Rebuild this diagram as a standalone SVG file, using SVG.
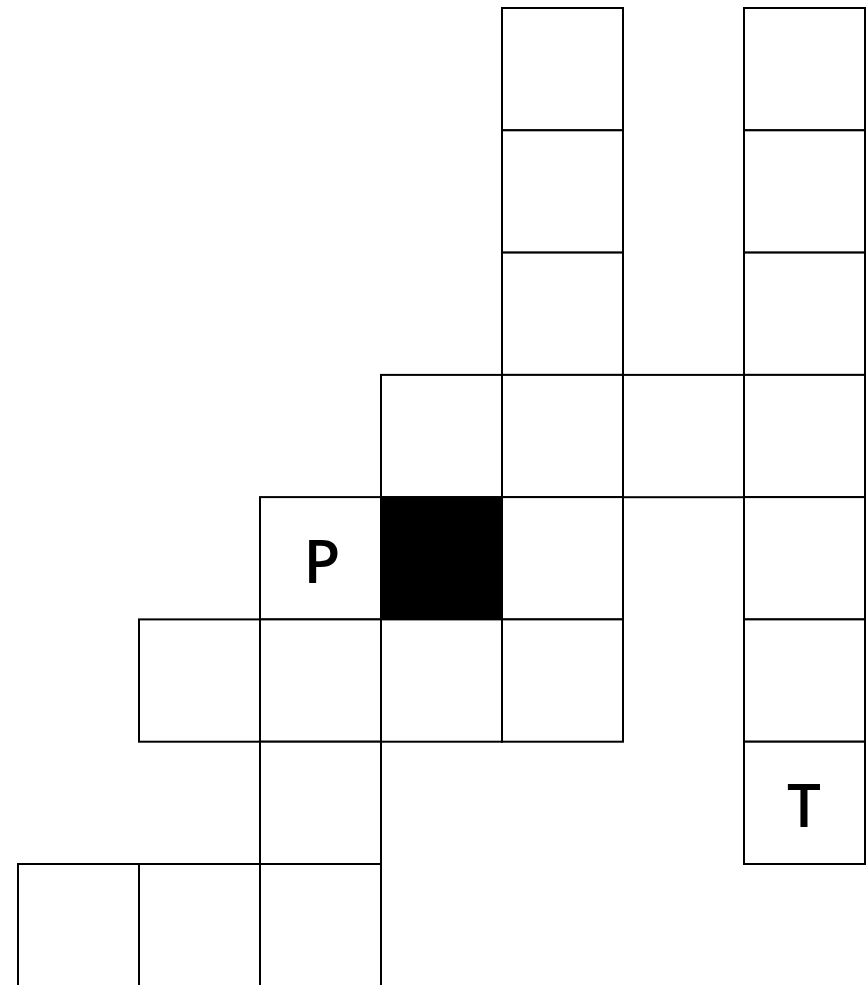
<svg xmlns="http://www.w3.org/2000/svg" width="868" height="985" viewBox="0 0 868 985">
<style>
.c{fill:#fff;stroke:#000;stroke-width:2}
.b{fill:#000;stroke:#000;stroke-width:2}
.t{font-family:"Open Sans","DejaVu Sans",sans-serif;font-size:60px;font-weight:600;fill:#000;text-anchor:middle}
</style>
<rect width="868" height="985" fill="#fff"/>
<g id="r0c4"><rect class="c" x="502" y="8" width="121" height="122.3"/></g>
<g id="r0c6"><rect class="c" x="744" y="8" width="121" height="122.3"/></g>
<g id="r1c4"><rect class="c" x="502" y="130.3" width="121" height="122.3"/></g>
<g id="r1c6"><rect class="c" x="744" y="130.3" width="121" height="122.3"/></g>
<g id="r2c4"><rect class="c" x="502" y="252.6" width="121" height="122.3"/></g>
<g id="r2c6"><rect class="c" x="744" y="252.6" width="121" height="122.3"/></g>
<g id="r3c3"><rect class="c" x="381" y="374.9" width="121" height="122.3"/></g>
<g id="r3c4"><rect class="c" x="502" y="374.9" width="121" height="122.3"/></g>
<g id="r3c5"><rect class="c" x="623" y="374.9" width="121" height="122.3"/></g>
<g id="r3c6"><rect class="c" x="744" y="374.9" width="121" height="122.3"/></g>
<g id="r4c2"><rect class="c" x="260" y="497.1" width="121" height="122.3"/><text class="t" x="322" y="583">P</text></g>
<g id="r4c3"><rect class="b" x="381" y="497.1" width="121" height="122.3"/></g>
<g id="r4c4"><rect class="c" x="502" y="497.1" width="121" height="122.3"/></g>
<g id="r4c6"><rect class="c" x="744" y="497.1" width="121" height="122.3"/></g>
<g id="r5c1"><rect class="c" x="139" y="619.4" width="121" height="122.3"/></g>
<g id="r5c2"><rect class="c" x="260" y="619.4" width="121" height="122.3"/></g>
<g id="r5c3"><rect class="c" x="381" y="619.4" width="121" height="122.3"/></g>
<g id="r5c4"><rect class="c" x="502" y="619.4" width="121" height="122.3"/></g>
<g id="r5c6"><rect class="c" x="744" y="619.4" width="121" height="122.3"/></g>
<g id="r6c2"><rect class="c" x="260" y="741.7" width="121" height="122.3"/></g>
<g id="r6c6"><rect class="c" x="744" y="741.7" width="121" height="122.3"/><text class="t" x="804" y="827">T</text></g>
<g id="r7c0"><rect class="c" x="18" y="864" width="121" height="130"/></g>
<g id="r7c1"><rect class="c" x="139" y="864" width="121" height="130"/></g>
<g id="r7c2"><rect class="c" x="260" y="864" width="121" height="130"/></g>
<g id="connectors"></g>
</svg>
